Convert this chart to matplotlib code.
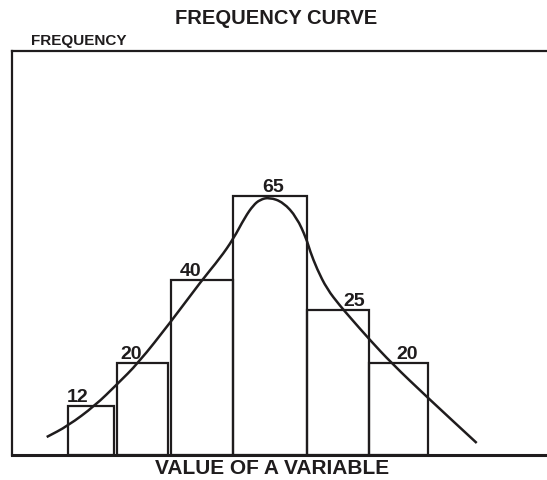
import matplotlib
matplotlib.use("Agg")
import matplotlib.pyplot as plt
from matplotlib.path import Path
from matplotlib.patches import PathPatch

# ---- data ----
frequencies = [12, 20, 40, 65, 25, 20]                      # printed labels
class_lefts = [67.7, 117.3, 170.7, 232.5, 307.0, 368.5]     # value of variable (class starts)
class_rights = [114.0, 167.7, 232.5, 307.0, 368.5, 427.5]   # class ends
bar_heights = [12.3, 22.9, 43.8, 65.0, 36.3, 22.9]          # drawn heights

curve_x = [46.7, 67.7, 95, 117.3, 138, 170.7, 202, 220, 233.3, 245, 253.3, 260,
           269.3, 283.3, 296.7, 306.5, 310, 317, 327, 340, 350, 369, 391.7,
           427.3, 476.7]
curve_y = [4.39, 7.16, 12.26, 17.70, 22.90, 33.27, 43.82, 49.30, 54.12, 59.60,
           62.60, 64.00, 64.59, 63.34, 59.57, 54.10, 51.10, 46.58, 41.56, 37.37,
           34.45, 29.01, 22.90, 14.36, 2.89]

title = "FREQUENCY CURVE"
y_label = "FREQUENCY"
x_label = "VALUE OF A VARIABLE"

# ---- layout / style ----
label_dx = [-13, -11, -11, 3, 16, 9]      # horizontal nudges of the value labels
INK = "#1f1c1d"
plt.rcParams['font.family'] = ['Liberation Sans', 'DejaVu Sans']

W, H = 547, 481
PX_PER_UNIT = 3.982
fig = plt.figure(figsize=(W / 100, H / 100), dpi=100)
fig.patch.set_facecolor("white")

left_px, right_px, top_px, bottom_px = 12.0, 560.0, 52.0, 455.5
ax = fig.add_axes([left_px / W, (H - bottom_px) / H,
                   (right_px - left_px) / W, (bottom_px - top_px) / H])
ax.set_xlim(left_px, right_px)
ax.set_ylim(0, (bottom_px - top_px) / PX_PER_UNIT)
ax.set_xticks([])
ax.set_yticks([])
for s in ["left", "top", "bottom", "right"]:
    ax.spines[s].set_color(INK)
    ax.spines[s].set_linewidth(1.6)
ax.spines["bottom"].set_linewidth(2.2)

widths = [r - l for l, r in zip(class_lefts, class_rights)]
ax.bar(class_lefts, bar_heights, width=widths, align="edge", fill=False,
       edgecolor=INK, linewidth=1.6, zorder=2)

for l, w, h, f, dx in zip(class_lefts, widths, bar_heights, frequencies, label_dx):
    ax.text(l + w / 2 + dx, h + 5 / PX_PER_UNIT, str(f), ha="center", va="baseline",
            fontsize=14, fontweight="bold", color=INK)

# smooth rendering of the read curve points (quadratic Bezier through midpoints)
pts = list(zip(curve_x, curve_y))
verts = [pts[0]]
codes = [Path.MOVETO]
mids = [((pts[i][0] + pts[i + 1][0]) / 2, (pts[i][1] + pts[i + 1][1]) / 2)
        for i in range(len(pts) - 1)]
verts.append(mids[0]); codes.append(Path.LINETO)
for i in range(1, len(pts) - 1):
    verts += [pts[i], mids[i]]
    codes += [Path.CURVE3, Path.CURVE3]
verts.append(pts[-1]); codes.append(Path.LINETO)
ax.add_patch(PathPatch(Path(verts, codes), facecolor="none", edgecolor=INK,
                       linewidth=1.8, zorder=3, capstyle="butt"))

fig.text(276 / W, 1 - 24 / H, title, ha="center", va="baseline",
         fontsize=14.5, fontweight="bold", color=INK)
fig.text(31 / W, 1 - 45 / H, y_label, ha="left", va="baseline",
         fontsize=11, fontweight="bold", color=INK)
fig.text(272 / W, 1 - 474 / H, x_label, ha="center", va="baseline",
         fontsize=15, fontweight="bold", color=INK)

fig.savefig("out.png", dpi=100)
